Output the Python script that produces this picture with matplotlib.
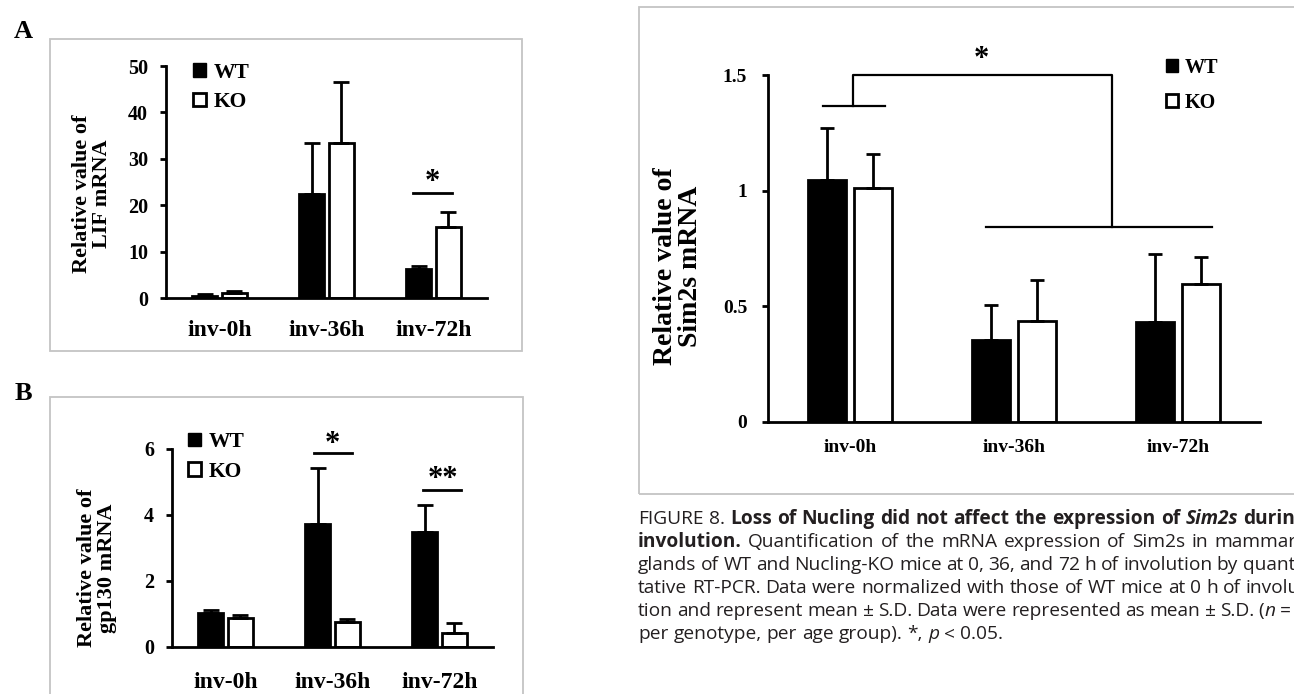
import numpy as np
import matplotlib
matplotlib.use('Agg')
import matplotlib.pyplot as plt
from matplotlib.patches import Patch, Rectangle

groups = ['inv-0h', 'inv-36h', 'inv-72h']

# A - LIF mRNA
lif_wt = [0.5, 22.5, 6.2]
lif_wt_sd = [0.4, 10.9, 0.8]
lif_ko = [1.0, 33.5, 15.3]
lif_ko_sd = [0.6, 13.1, 3.3]

# B - gp130 mRNA
gp_wt = [1.03, 3.74, 3.50]
gp_wt_sd = [0.09, 1.67, 0.79]
gp_ko = [0.89, 0.76, 0.43]
gp_ko_sd = [0.08, 0.09, 0.30]

# Figure 8 - Sim2s mRNA
sim_wt = [1.046, 0.355, 0.432]
sim_wt_sd = [0.224, 0.151, 0.294]
sim_ko = [1.01, 0.437, 0.596]
sim_ko_sd = [0.15, 0.177, 0.118]

plt.rcParams['font.family'] = 'Liberation Serif'
plt.rcParams['font.weight'] = 'bold'

W, H = 1294, 694
fig = plt.figure(figsize=(W / 100, H / 100), dpi=100)


def px(x0, y0, x1, y1):
    # pixel box -> figure fraction [left, bottom, width, height]
    return [x0 / W, 1 - y1 / H, (x1 - x0) / W, (y1 - y0) / H]


def bars(ax, wt, wt_sd, ko, ko_sd, cap, lw=2):
    x = np.arange(len(groups))
    ax.bar(x - 0.14, wt, 0.23, color='black', edgecolor='black', linewidth=lw,
           yerr=[np.zeros(len(wt)), wt_sd],
           error_kw=dict(elinewidth=lw, capsize=cap, capthick=lw, ecolor='black'))
    ax.bar(x + 0.14, ko, 0.23, color='white', edgecolor='black', linewidth=lw,
           yerr=[np.zeros(len(ko)), ko_sd],
           error_kw=dict(elinewidth=lw, capsize=cap, capthick=lw, ecolor='black'))
    ax.set_xlim(-0.5, 2.5)
    ax.set_xticks(x)
    ax.set_xticklabels(groups)
    ax.spines[['top', 'right']].set_visible(False)
    ax.spines[['left', 'bottom']].set_linewidth(lw)
    ax.tick_params(axis='x', length=0)
    ax.tick_params(axis='y', length=4, width=lw, direction='out')


def legend(ax, x, y, size, spacing):
    hs = [Patch(facecolor='black', edgecolor='black', linewidth=1),
          Patch(facecolor='white', edgecolor='black', linewidth=2)]
    ax.legend(hs, ['WT', 'KO'], loc='upper left', bbox_to_anchor=(x, y),
              frameon=False, handlelength=0.6, handleheight=0.6, handletextpad=0.35,
              labelspacing=spacing, borderpad=0, borderaxespad=0,
              prop=dict(family='Liberation Serif', weight='bold', size=size))


# panel A
ax = fig.add_axes(px(166, 66, 487, 298))
bars(ax, lif_wt, lif_wt_sd, lif_ko, lif_ko_sd, cap=6)
ax.set_ylim(0, 50)
ax.set_yticks(range(0, 51, 10))
ax.tick_params(axis='y', labelsize=14.5, pad=9)
ax.tick_params(axis='x', labelsize=17, pad=16)
ax.text(-0.23, 0.45, 'Relative value of\nLIF mRNA', transform=ax.transAxes, rotation=90,
        ha='center', va='center', fontsize=16, linespacing=1.0, multialignment='center')
ax.plot([1.81, 2.17], [22.7, 22.7], color='black', lw=2)
ax.text(1.99, 23.3, '*', ha='center', va='baseline', fontsize=22)
legend(ax, 0.084, 1.015, 15.5, 0.45)

# panel B
ax = fig.add_axes(px(172, 449, 493, 647))
bars(ax, gp_wt, gp_wt_sd, gp_ko, gp_ko_sd, cap=6)
ax.set_ylim(0, 6)
ax.set_yticks([0, 2, 4, 6])
ax.tick_params(axis='y', labelsize=14.5, pad=9)
ax.tick_params(axis='x', labelsize=17, pad=18)
ax.text(-0.234, 0.40, 'Relative value of\ngp130 mRNA', transform=ax.transAxes, rotation=90,
        ha='center', va='center', fontsize=16, linespacing=1.0, multialignment='center')
ax.plot([0.83, 1.18], [5.87, 5.87], color='black', lw=2, clip_on=False)
ax.text(1.0, 5.9, '*', ha='center', va='baseline', fontsize=22)
ax.plot([1.85, 2.2], [4.77, 4.77], color='black', lw=2, clip_on=False)
ax.text(2.03, 4.85, '**', ha='center', va='baseline', fontsize=22)
legend(ax, 0.05, 1.085, 15.5, 0.45)

# right panel (Sim2s)
ax = fig.add_axes(px(768, 75, 1260, 422))
bars(ax, sim_wt, sim_wt_sd, sim_ko, sim_ko_sd, cap=5)
ax.set_ylim(0, 1.5)
ax.set_yticks([0, 0.5, 1, 1.5])
ax.set_yticklabels(['0', '0.5', '1', '1.5'])
ax.tick_params(axis='y', labelsize=14, pad=11)
ax.tick_params(axis='x', labelsize=14, pad=12)
ax.text(-0.183, 0.45, 'Relative value of\nSim2s mRNA', transform=ax.transAxes, rotation=90,
        ha='center', va='center', fontsize=20, linespacing=1.0, multialignment='center')
ax.plot([-0.165, 0.213], [1.366, 1.366], color='black', lw=1.6, clip_on=False)
ax.plot([0.02, 0.02, 1.6, 1.6], [1.366, 1.5, 1.5, 0.843], color='black', lw=1.6, clip_on=False)
ax.plot([0.83, 2.21], [0.843, 0.843], color='black', lw=1.6)
ax.text(0.8, 1.535, '*', ha='center', va='baseline', fontsize=22)
legend(ax, 0.809, 1.05, 14.5, 0.75)

# panel letters and grey frames
fig.text(23 / W, 1 - 31 / H, 'A', ha='center', va='center', fontsize=19)
fig.text(23 / W, 1 - 393 / H, 'B', ha='center', va='center', fontsize=19)
for x0, y0, x1, y1 in [(50, 39, 522, 351), (50, 397, 523, 705), (639, 7, 1305, 494)]:
    l, b, w, h = px(x0, y0, x1, y1)
    fig.add_artist(Rectangle((l, b), w, h, transform=fig.transFigure, fill=False,
                             edgecolor='#c4c4c4', linewidth=1.3))

# caption, justified word by word (runs past the right edge like the source page)
caption = [
    [('FIGURE 8. ', 'n'), ('Loss of Nucling did not affect the expression of ', 'b'),
     ('Sim2s', 'bi'), (' during', 'b')],
    [('involution.', 'b'), (' Quantification of the mRNA expression of Sim2s in mammary', 'n')],
    [('glands of WT and Nucling-KO mice at 0, 36, and 72 h of involution by quanti-', 'n')],
    [('tative RT-PCR. Data were normalized with those of WT mice at 0 h of involu-', 'n')],
    [('tion and represent mean \u00b1 S.D. Data were represented as mean \u00b1 S.D. (', 'n'),
     ('n', 'i'), (' = 3', 'n')],
    [('per genotype, per age group). *, ', 'n'), ('p', 'i'), (' < 0.05.', 'n')],
]
styles = {'n': ('normal', 'normal'), 'b': ('bold', 'normal'),
          'i': ('normal', 'italic'), 'bi': ('bold', 'italic')}
cap_left, cap_right = 638, 1306
cap_y0, cap_dy = 524, 23
cap_size = 13.8
r = fig.canvas.get_renderer()


def cap_text(s, st):
    wgt, sty = styles[st]
    return fig.text(0, 0, s, fontsize=cap_size, family='Open Sans', weight=wgt,
                    style=sty, color='#231f20', va='baseline', ha='left')


probe = cap_text('x x', 'n')
probe2 = cap_text('xx', 'n')
space = probe.get_window_extent(r).width - probe2.get_window_extent(r).width
probe.remove()
probe2.remove()

for i, segs in enumerate(caption):
    words = [[]]
    for s, st in segs:
        parts = s.split(' ')
        for k, p in enumerate(parts):
            if k > 0:
                words.append([])
            if p:
                words[-1].append((p, st))
    words = [w for w in words if w]
    placed = []
    for w in words:
        items = []
        for p, st in w:
            t = cap_text(p, st)
            items.append((t, t.get_window_extent(r).width))
        placed.append(items)
    total = sum(wd for items in placed for _, wd in items)
    if i < len(caption) - 1:
        gap = max((cap_right - cap_left - total) / (len(placed) - 1), space * 0.8)
    else:
        gap = space
    x = cap_left
    y = cap_y0 + i * cap_dy
    for items in placed:
        for t, wd in items:
            t.set_position((x / W, 1 - y / H))
            x += wd
        x += gap

fig.savefig('out.png', dpi=100)
